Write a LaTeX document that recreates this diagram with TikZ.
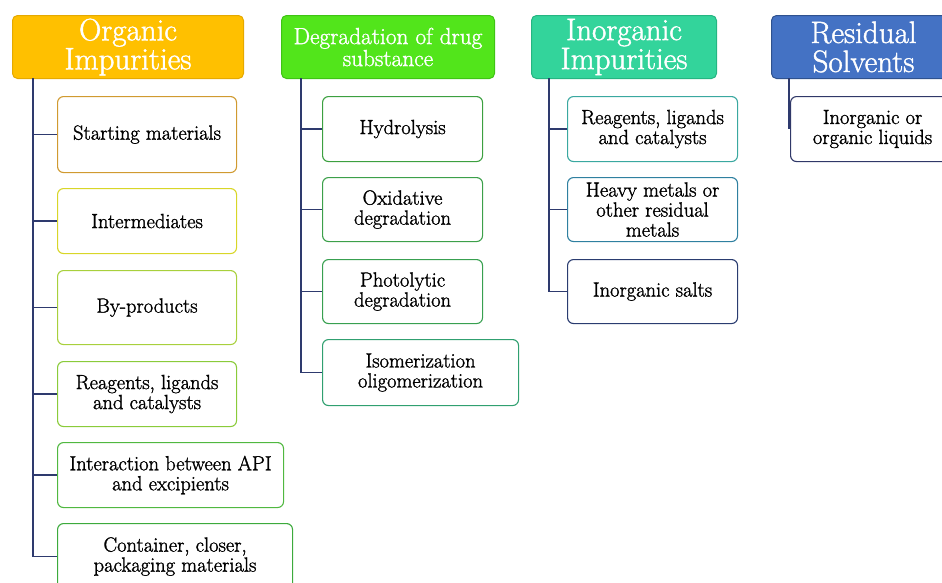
\documentclass[tikz,border=0pt]{standalone}
\usepackage{fontspec}
\newfontfamily\tnr{Latin Modern Roman}[FakeBold=1.4]
\begin{document}
\begin{tikzpicture}[x=1pt,y=-1pt,
  hdr/.style={rounded corners=5pt, line width=1pt, text=white, align=center, inner sep=0pt, anchor=north west},
  hfont/.style={font=\tnr\fontsize{31}{29}\selectfont},
  kid/.style={rounded corners=6pt, line width=1.1pt, fill=white, align=center, inner sep=0pt, anchor=north west, font=\tnr\fontsize{20.5}{20}\selectfont},
  conn/.style={draw=conncol, line width=1.2pt}
]
\definecolor{conncol}{HTML}{2E3A6E}
\definecolor{orgfill}{HTML}{FFC000}\definecolor{orgline}{HTML}{E5A900}
\definecolor{degfill}{HTML}{52E51B}\definecolor{degline}{HTML}{3FC414}
\definecolor{inofill}{HTML}{33D49B}\definecolor{inoline}{HTML}{25B582}
\definecolor{resfill}{HTML}{4472C4}\definecolor{resline}{HTML}{2F528F}
\definecolor{cA}{HTML}{D09A30}\definecolor{cB}{HTML}{D8D628}
\definecolor{cC}{HTML}{A8D03C}\definecolor{cD}{HTML}{8ACB3A}
\definecolor{cE}{HTML}{50B840}\definecolor{cF}{HTML}{3CAA3C}
\definecolor{dA}{HTML}{3CA040}\definecolor{dB}{HTML}{3CA04A}
\definecolor{dC}{HTML}{38A050}\definecolor{dD}{HTML}{30A070}
\definecolor{iA}{HTML}{3AA8A0}\definecolor{iB}{HTML}{2F80A0}
\definecolor{iC}{HTML}{2A3C70}\definecolor{rA}{HTML}{303868}
\useasboundingbox (0,0) rectangle (942,582);
\clip (0,0) rectangle (942,582);

% headers
\node[hdr, hfont, fill=orgfill, draw=orgline, minimum width=231pt, minimum height=63pt] (org) at (12,15) {Organic\\Impurities};
\node[hdr, fill=degfill, draw=degline, minimum width=213pt, minimum height=63pt, font=\tnr\fontsize{23.3}{22}\selectfont] (deg) at (281,15) {Degradation of drug\\substance};
\node[hdr, hfont, fill=inofill, draw=inoline, minimum width=185pt, minimum height=63pt] (ino) at (531,15) {Inorganic\\Impurities};
\node[hdr, hfont, fill=resfill, draw=resline, minimum width=184pt, minimum height=63pt] (res) at (771,15) {Residual\\Solvents};

% organic children
\node[kid, draw=cA, minimum width=179pt, minimum height=76pt] (o1) at (57,96) {Starting materials};
\node[kid, draw=cB, minimum width=179pt, minimum height=65pt] (o2) at (57,188) {Intermediates};
\node[kid, draw=cC, minimum width=179pt, minimum height=74pt] (o3) at (57,270) {By-products};
\node[kid, draw=cD, minimum width=179pt, minimum height=65pt] (o4) at (57,361) {Reagents, ligands\\and catalysts};
\node[kid, draw=cE, minimum width=226pt, minimum height=65pt] (o5) at (57,442) {Interaction between API\\and excipients};
\node[kid, draw=cF, minimum width=235pt, minimum height=66pt] (o6) at (57,523) {Container, closer,\\packaging materials};

% degradation children
\node[kid, draw=dA, minimum width=160pt, minimum height=65pt] (d1) at (322,96) {Hydrolysis};
\node[kid, draw=dB, minimum width=160pt, minimum height=64pt] (d2) at (322,177) {Oxidative\\degradation};
\node[kid, draw=dC, minimum width=160pt, minimum height=64pt] (d3) at (322,259) {Photolytic\\degradation};
\node[kid, draw=dD, minimum width=196pt, minimum height=66pt] (d4) at (322,339) {Isomerization\\oligomerization};

% inorganic children
\node[kid, draw=iA, minimum width=170pt, minimum height=65pt] (i1) at (567,96) {Reagents, ligands\\and catalysts};
\node[kid, draw=iB, minimum width=170pt, minimum height=64pt] (i2) at (567,177) {Heavy metals or\\other residual\\metals};
\node[kid, draw=iC, minimum width=170pt, minimum height=64pt] (i3) at (567,259) {Inorganic salts};

% residual child
\node[kid, draw=rA, minimum width=164pt, minimum height=65pt] (r1) at (790,96) {Inorganic or\\organic liquids};

% trunks
\coordinate (ot) at (33,78);
\coordinate (dt) at (301,78);
\coordinate (it) at (549,78);
\coordinate (rt) at (789,78);

\foreach \b in {o1,o2,o3,o4,o5,o6} \draw[conn] (ot) |- (\b.west);
\foreach \b in {d1,d2,d3,d4} \draw[conn] (dt) |- (\b.west);
\foreach \b in {i1,i2,i3} \draw[conn] (it) |- (\b.west);
\draw[conn] (rt) -- (rt |- r1.west);
\end{tikzpicture}
\end{document}
